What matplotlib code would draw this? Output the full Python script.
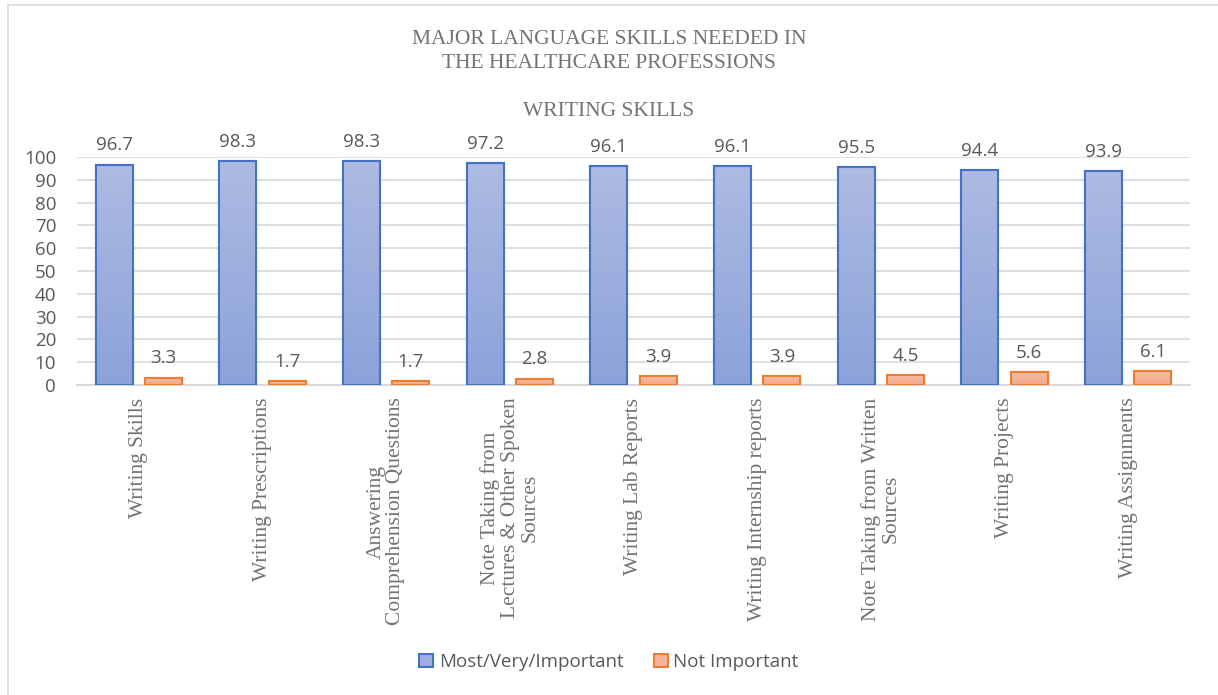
import matplotlib
matplotlib.use("Agg")
import matplotlib.pyplot as plt
import numpy as np
from matplotlib.patches import Rectangle
from matplotlib.lines import Line2D
from matplotlib.colors import LinearSegmentedColormap

categories = ["Writing Skills", "Writing Prescriptions",
              "Answering\nComprehension Questions",
              "Note Taking from\nLectures & Other Spoken\nSources",
              "Writing Lab Reports", "Writing Internship reports",
              "Note Taking from Written\nSources", "Writing Projects",
              "Writing Assignments"]
important = [96.7, 98.3, 98.3, 97.2, 96.1, 96.1, 95.5, 94.4, 93.9]
not_important = [3.3, 1.7, 1.7, 2.8, 3.9, 3.9, 4.5, 5.6, 6.1]
series_names = ["Most/Very/Important", "Not Important"]
yticks = [0, 10, 20, 30, 40, 50, 60, 70, 80, 90, 100]

gray = "#595959"
sgray = "#737373"
serif = ["Liberation Serif", "DejaVu Serif"]
sans = ["Open Sans", "DejaVu Sans"]

fig = plt.figure(figsize=(12.18, 6.95), dpi=100)
ax = fig.add_axes([0.0632, 0.446, 0.9138, 0.328])

x = np.arange(len(categories))
w = 0.3
off = 0.2

blue_cmap = LinearSegmentedColormap.from_list("b", ["#8BA2D9", "#AEBBE2"])
orange_cmap = LinearSegmentedColormap.from_list("o", ["#F4A98A", "#F7BCA5"])

b1 = ax.bar(x - off, important, w, color="#9DAFDE", edgecolor="#4472C4", linewidth=1.5, label=series_names[0], zorder=3)
b2 = ax.bar(x + off, not_important, w, color="#F5B49A", edgecolor="#ED7D31", linewidth=1.5, label=series_names[1], zorder=3)

grad = np.linspace(0, 1, 256).reshape(-1, 1)
for bars, cmap in ((b1, blue_cmap), (b2, orange_cmap)):
    for r in bars:
        x0, y0 = r.get_x(), r.get_y()
        im = ax.imshow(grad, cmap=cmap, aspect="auto", origin="lower",
                       extent=[x0, x0 + r.get_width(), y0, y0 + r.get_height()], zorder=3.5)
        im.set_clip_path(r)
        outline = Rectangle((x0, y0), r.get_width(), r.get_height(), fill=False,
                            edgecolor=r.get_edgecolor(), linewidth=1.5, zorder=4)
        ax.add_patch(outline)

for xi, v in zip(x, important):
    ax.text(xi - off, v + 4.5, f"{v}", ha="center", va="bottom", fontsize=13.5, color=gray, family=sans)
for xi, v in zip(x, not_important):
    ax.text(xi + off, v + 4.5, f"{v}", ha="center", va="bottom", fontsize=13.5, color=gray, family=sans)

ax.set_xlim(-0.5, len(categories) - 0.5)
ax.set_ylim(0, 100)
ax.set_yticks(yticks)
ax.set_yticklabels([str(t) for t in yticks], fontsize=13.5, color=gray, family=sans)
ax.yaxis.grid(True, color="#D9D9D9", linewidth=1.2, zorder=0)
ax.set_axisbelow(True)
ax.tick_params(axis="y", length=0, pad=15)
ax.tick_params(axis="x", length=0)
ax.set_xticks(x)
ax.set_xticklabels([])
for s in ["left", "right", "top"]:
    ax.spines[s].set_visible(False)
ax.spines["bottom"].set_color("#D9D9D9")
ax.spines["bottom"].set_linewidth(1.5)

for xi, c in zip(x, categories):
    ax.text(xi, -5.5, c, rotation=90, ha="center", va="top", multialignment="center",
            fontsize=15.5, color=sgray, family=serif, linespacing=1.05, transform=ax.transData)

fig.text(0.5, 1 - 40 / 695, "MAJOR LANGUAGE SKILLS NEEDED IN",
         ha="center", va="center", fontsize=15.5, color=sgray, family=serif)
fig.text(0.5, 1 - 63 / 695, "THE HEALTHCARE PROFESSIONS",
         ha="center", va="center", fontsize=15.5, color=sgray, family=serif)
fig.text(0.5, 1 - 111 / 695, "WRITING SKILLS", ha="center", va="center",
         fontsize=15.5, color=sgray, family=serif)

leg = fig.legend(handles=[b1, b2], labels=series_names, loc="center",
                 bbox_to_anchor=(0.5, 1 - 662 / 695), ncol=2, frameon=False,
                 prop={"family": sans, "size": 13.5}, handlelength=0.75, handleheight=0.75,
                 handletextpad=0.3, columnspacing=1.6)
for t in leg.get_texts():
    t.set_color(gray)

fig.add_artist(Line2D([8 / 1218, 8 / 1218, 1.0], [0.0, 1 - 5 / 695, 1 - 5 / 695],
                      transform=fig.transFigure, color="#D9D9D9", linewidth=1.2))

fig.savefig("out.png", dpi=100, facecolor="white")
